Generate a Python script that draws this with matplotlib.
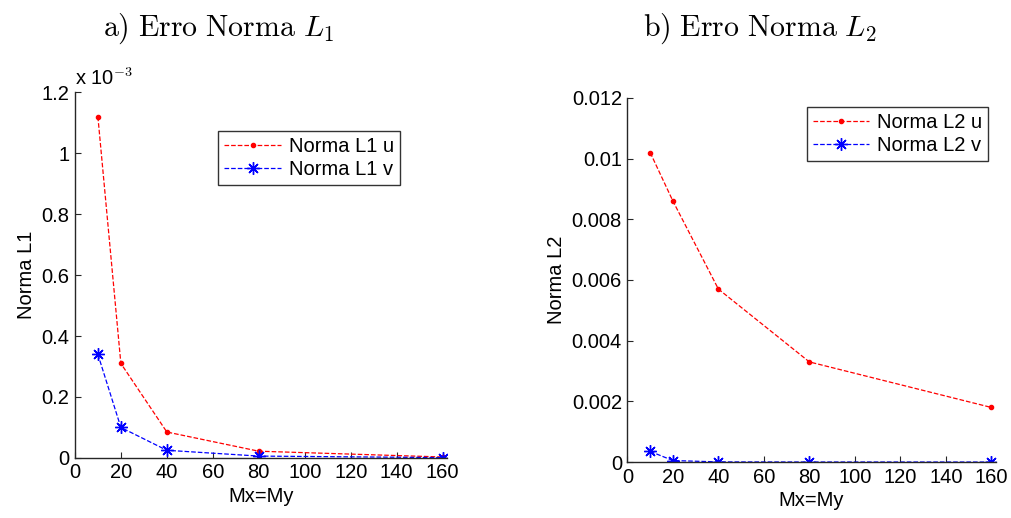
import matplotlib
matplotlib.use("Agg")
import matplotlib.pyplot as plt
from matplotlib.ticker import FuncFormatter

plt.rcParams['font.family'] = ['Liberation Sans', 'DejaVu Sans']
plt.rcParams['mathtext.fontset'] = 'cm'

# malhas Mx=My
malhas = [10, 20, 40, 80, 160]

# erros norma L1
l1_u = [1.12e-3, 0.31e-3, 0.085e-3, 0.022e-3, 0.003e-3]
l1_v = [0.34e-3, 0.10e-3, 0.025e-3, 0.006e-3, 0.001e-3]

# erros norma L2
l2_u = [0.0102, 0.0086, 0.0057, 0.0033, 0.0018]
l2_v = [0.00035, 0.00005, 0.000005, 0.000002, 0.000001]

xticks = [0, 20, 40, 60, 80, 100, 120, 140, 160]
l1_ticks = [0, 0.2e-3, 0.4e-3, 0.6e-3, 0.8e-3, 1.0e-3, 1.2e-3]
l2_ticks = [0, 0.002, 0.004, 0.006, 0.008, 0.010, 0.012]

fs = 14.5
asterisk = (8, 2, 0)

fig = plt.figure(figsize=(10.12, 5.18), dpi=100)
ax1 = fig.add_axes([0.074, 0.116, 0.368, 0.706])
ax2 = fig.add_axes([0.620, 0.108, 0.364, 0.703])


def estilo(ax):
    ax.spines['top'].set_visible(False)
    ax.spines['right'].set_visible(False)
    for s in ['left', 'bottom']:
        ax.spines[s].set_color('#262626')
        ax.spines[s].set_linewidth(1.0)
    ax.tick_params(direction='in', length=4, labelsize=fs, colors='#262626',
                   labelcolor='black', pad=4)
    ax.set_xlim(0, 162)
    ax.set_xticks(xticks)
    ax.set_xlabel('Mx=My', fontsize=fs, labelpad=3)


# a) norma L1
ax1.plot(malhas, l1_u, 'r--', marker='.', markersize=6, linewidth=0.9, label='Norma L1 u')
ax1.plot(malhas, l1_v, 'b--', marker=asterisk, markersize=9, markeredgewidth=1.0,
         linewidth=0.9, label='Norma L1 v')
estilo(ax1)
ax1.set_ylim(0, 1.2e-3)
ax1.set_yticks(l1_ticks)
ax1.yaxis.set_major_formatter(FuncFormatter(lambda v, p: f"{v * 1e3:g}"))
ax1.set_ylabel('Norma L1', fontsize=fs, labelpad=4)
ax1.text(0.0, 1.01, r'x 10$^{\mathsf{-3}}$', transform=ax1.transAxes, fontsize=fs,
         ha='left', va='bottom')
leg1 = ax1.legend(loc='upper left', bbox_to_anchor=(0.385, 0.895), fontsize=fs,
                  frameon=True, fancybox=False, edgecolor='black', borderpad=0.3,
                  handlelength=2.8, handletextpad=0.4, labelspacing=0.2,
                  borderaxespad=0)
leg1.get_frame().set_linewidth(1.0)

# b) norma L2
ax2.plot(malhas, l2_u, 'r--', marker='.', markersize=6, linewidth=0.9, label='Norma L2 u')
ax2.plot(malhas, l2_v, 'b--', marker=asterisk, markersize=9, markeredgewidth=1.0,
         linewidth=0.9, label='Norma L2 v')
estilo(ax2)
ax2.set_ylim(0, 0.012)
ax2.set_yticks(l2_ticks)
ax2.yaxis.set_major_formatter(FuncFormatter(lambda v, p: f"{v:g}"))
ax2.set_ylabel('Norma L2', fontsize=fs, labelpad=4)
leg2 = ax2.legend(loc='upper left', bbox_to_anchor=(0.487, 0.975), fontsize=fs,
                  frameon=True, fancybox=False, edgecolor='black', borderpad=0.3,
                  handlelength=2.8, handletextpad=0.4, labelspacing=0.2,
                  borderaxespad=0)
leg2.get_frame().set_linewidth(1.0)

fig.text(0.216, 0.945, r'$\mathrm{a)\ Erro\ Norma\ }L_1$', fontsize=21.5, ha='center', va='center')
fig.text(0.751, 0.945, r'$\mathrm{b)\ Erro\ Norma\ }L_2$', fontsize=21.5, ha='center', va='center')

fig.savefig('out.png', dpi=100)
